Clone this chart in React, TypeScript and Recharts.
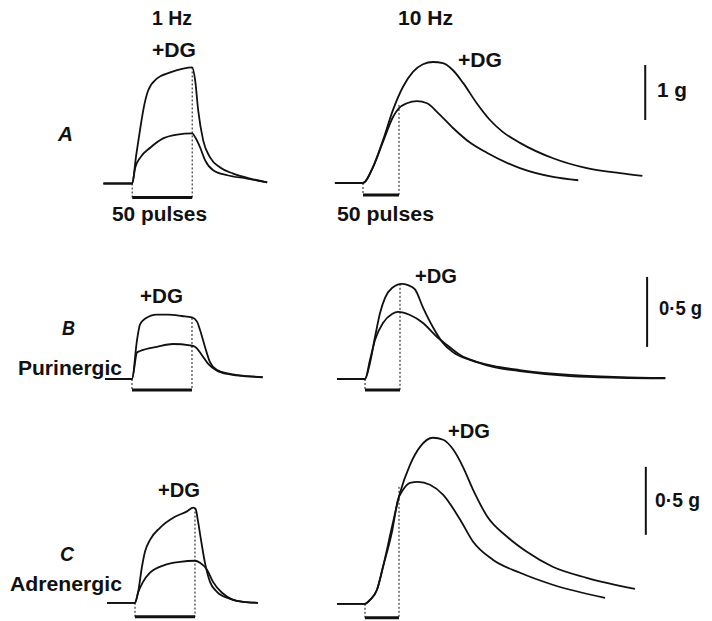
import { LineChart, Line, XAxis, YAxis, ReferenceLine } from 'recharts';

// tension traces: [time from start of train (s), tension above baseline (g)]
// A: whole nerve, 1 Hz and 10 Hz trains of 50 pulses
const A1_DG = [[-24, 0], [0, 0], [3.3, 0.51], [6.7, 1.0], [10, 1.42], [13.3, 1.69], [20.8, 1.91], [31.7, 2.02], [42.5, 2.09], [50, 2.11], [52.5, 1.87], [55, 1.33], [59.2, 0.78], [65, 0.47], [73.3, 0.29], [84.2, 0.18], [98.3, 0.09], [112.5, 0.02]];
const A1_CTRL = [[-24, 0], [0, 0], [2.5, 0.29], [6.7, 0.47], [15, 0.65], [25.8, 0.82], [37.5, 0.89], [50, 0.91], [52.5, 0.84], [56.7, 0.65], [60.8, 0.42], [67.5, 0.24], [79.2, 0.15], [95.8, 0.09], [112.5, 0.02]];
const A10_DG = [[-3.9, 0], [0, 0], [1.39, 0.29], [2.78, 0.78], [4.17, 1.33], [5.56, 1.75], [6.94, 2.02], [8.33, 2.16], [9.72, 2.2], [11.1, 2.18], [12.5, 2.05], [13.9, 1.82], [15.8, 1.45], [17.6, 1.15], [19.4, 0.93], [21.8, 0.73], [26.4, 0.45], [31.1, 0.27], [35.7, 0.18], [38.8, 0.13]];
const A10_CTRL = [[-3.9, 0], [0, 0], [1.39, 0.29], [2.78, 0.75], [4.17, 1.2], [5.0, 1.36], [6.1, 1.45], [7.5, 1.49], [8.9, 1.45], [10.3, 1.29], [12.5, 1.0], [14.9, 0.73], [17.2, 0.55], [21.8, 0.27], [26.4, 0.11], [29.9, 0.05]];

// B: purinergic component
const B1_DG = [[-22.5, 0], [0, 0], [4.2, 0.28], [6.7, 0.39], [10.8, 0.43], [20.8, 0.46], [30, 0.46], [41.7, 0.45], [50, 0.44], [54.2, 0.41], [56.7, 0.35], [60.8, 0.23], [65, 0.12], [70.8, 0.064], [81.7, 0.036], [95.8, 0.021], [109, 0.014]];
const B1_CTRL = [[-22.5, 0], [0, 0], [4.2, 0.19], [6.7, 0.2], [20.8, 0.23], [34.2, 0.25], [48.3, 0.24], [52.5, 0.23], [58.3, 0.17], [63.3, 0.11], [70.8, 0.06], [81.7, 0.033], [95.8, 0.019], [109, 0.012]];
const B10_DG = [[-4, 0], [0, 0], [0.71, 0.114], [1.43, 0.3], [2.14, 0.47], [2.86, 0.58], [3.86, 0.65], [5.29, 0.68], [6.14, 0.67], [7.14, 0.64], [8.29, 0.51], [9.71, 0.37], [11.1, 0.26], [12.6, 0.19], [15, 0.136], [18.3, 0.093], [22.1, 0.064], [29.3, 0.029], [36.4, 0.014], [42.9, 0.007]];
const B10_CTRL = [[-4, 0], [0, 0], [0.71, 0.136], [1.43, 0.279], [2.57, 0.4], [3.86, 0.464], [4.71, 0.479], [6.43, 0.457], [8.29, 0.4], [10.3, 0.3], [11.7, 0.243], [13.6, 0.171], [16, 0.121], [18.3, 0.086], [22.1, 0.057], [29.3, 0.021], [36.4, 0.009], [42.9, 0.005]];

// C: adrenergic component
const C1_DG = [[-23.3, 0], [0, 0], [2.5, 0.074], [5.8, 0.265], [8.3, 0.375], [12.5, 0.463], [20.8, 0.551], [33.3, 0.632], [43.3, 0.672], [48.5, 0.7], [50.5, 0.69], [52.5, 0.6], [54.5, 0.49], [58.3, 0.294], [62.5, 0.154], [68.3, 0.081], [79.2, 0.029], [90, 0.007], [102.5, 0]];
const C1_CTRL = [[-23.3, 0], [0, 0], [2.5, 0.074], [6.7, 0.154], [12.5, 0.221], [25, 0.279], [37.5, 0.301], [50, 0.309], [54.2, 0.294], [60, 0.243], [65, 0.154], [72.5, 0.074], [81.7, 0.022], [90, 0.007], [102.5, 0]];
const C10_DG = [[-4.1, 0], [0, 0], [0.74, 0.029], [1.76, 0.103], [2.65, 0.272], [3.97, 0.566], [5.15, 0.816], [6.62, 1.022], [8.09, 1.154], [10, 1.221], [11.5, 1.206], [13, 1.132], [14.4, 1.007], [15.9, 0.838], [18, 0.64], [20.9, 0.493], [23.8, 0.382], [27.6, 0.272], [32.6, 0.191], [39.7, 0.11]];
const C10_CTRL = [[-4.1, 0], [0, 0], [0.74, 0.029], [1.76, 0.103], [2.65, 0.272], [3.97, 0.529], [4.85, 0.765], [5.59, 0.838], [6.62, 0.89], [7.79, 0.897], [9.56, 0.875], [11.5, 0.801], [14, 0.618], [15.9, 0.456], [18.8, 0.324], [22.8, 0.228], [27.6, 0.14], [35.3, 0.044]];

const INK = '#111';
const FONT = '"Liberation Sans", Arial, Helvetica, sans-serif';

type Panel = {
  id: string;
  dg: number[][];
  ctrl: number[][];
  train: number; // duration of 50 pulses (s)
  markTop: number; // g at which the dotted end-of-train line starts
  // layout: pixel position of t=0/baseline, and px per s / px per g
  x0: number; kx: number; y0: number; ky: number;
  t: [number, number]; g: [number, number];
  barDrop: number;
  scale?: { t: number; g0: number; len: number };
};

const PANELS: Panel[] = [
  { id: 'A1', dg: A1_DG, ctrl: A1_CTRL, train: 50, markTop: 2.11, x0: 132, kx: 1.2, y0: 183, ky: 55, t: [-26, 116], g: [-0.4, 2.3], barDrop: 14 },
  { id: 'A10', dg: A10_DG, ctrl: A10_CTRL, train: 5, markTop: 1.42, x0: 363, kx: 7.2, y0: 183, ky: 55, t: [-5, 41], g: [-0.4, 2.4], barDrop: 12, scale: { t: 39.2, g0: 1.145, len: 1 } },
  { id: 'B1', dg: B1_DG, ctrl: B1_CTRL, train: 50, markTop: 0.436, x0: 132, kx: 1.2, y0: 379, ky: 140, t: [-25, 112], g: [-0.15, 0.8], barDrop: 11 },
  { id: 'B10', dg: B10_DG, ctrl: B10_CTRL, train: 5, markTop: 0.68, x0: 365, kx: 7, y0: 379, ky: 140, t: [-5, 44], g: [-0.15, 0.8], barDrop: 11, scale: { t: 40.3, g0: 0.229, len: 0.5 } },
  { id: 'C1', dg: C1_DG, ctrl: C1_CTRL, train: 50, markTop: 0.7, x0: 135, kx: 1.2, y0: 603, ky: 136, t: [-25, 105], g: [-0.15, 0.8], barDrop: 14 },
  { id: 'C10', dg: C10_DG, ctrl: C10_CTRL, train: 5, markTop: 0.86, x0: 365, kx: 6.8, y0: 604, ky: 136, t: [-5, 43], g: [-0.15, 1.3], barDrop: 14, scale: { t: 41.3, g0: 0.507, len: 0.5 } },
];

// annotation text: [text, left x, baseline y, width, italic]
const TEXTS: [string, number, number, number, boolean?][] = [
  ['1 Hz', 152, 25, 40],
  ['10 Hz', 398, 25, 55],
  ['+DG', 152, 57, 44],
  ['+DG', 458, 67, 44],
  ['1 g', 657, 97, 30],
  ['A', 58, 141, 15, true],
  ['50 pulses', 112, 221, 95],
  ['50 pulses', 337, 221, 97],
  ['+DG', 140, 303, 43],
  ['+DG', 415, 283, 42],
  ['0·5 g', 659, 315, 43],
  ['B', 62, 335, 13, true],
  ['Purinergic', 18, 375, 104],
  ['+DG', 158, 497, 42],
  ['+DG', 448, 438, 42],
  ['0·5 g', 655, 507, 45],
  ['C', 60, 561, 14, true],
  ['Adrenergic', 10, 591, 112],
];

const pts = (a: number[][]) => a.map(([t, g]) => ({ t, g }));

const Trace = ({ p }: { p: Panel }) => {
  const left = p.x0 + p.t[0] * p.kx;
  const width = (p.t[1] - p.t[0]) * p.kx;
  const top = p.y0 - p.g[1] * p.ky;
  const height = (p.g[1] - p.g[0]) * p.ky;
  const bar = -p.barDrop / p.ky;
  return (
    <div style={{ position: 'absolute', left, top }}>
      <LineChart width={width} height={height} margin={{ top: 0, right: 0, bottom: 0, left: 0 }}>
        <XAxis type="number" dataKey="t" domain={p.t} hide allowDataOverflow />
        <YAxis type="number" dataKey="g" domain={p.g} hide allowDataOverflow />
        <ReferenceLine segment={[{ x: 0, y: 0 }, { x: 0, y: bar }]} stroke={INK} strokeWidth={1} strokeDasharray="2 2" />
        <ReferenceLine segment={[{ x: p.train, y: p.markTop }, { x: p.train, y: bar }]} stroke={INK} strokeWidth={1} strokeDasharray="2 2" />
        <ReferenceLine segment={[{ x: 0, y: bar }, { x: p.train, y: bar }]} stroke={INK} strokeWidth={3} />
        {p.scale && (
          <ReferenceLine
            segment={[{ x: p.scale.t, y: p.scale.g0 }, { x: p.scale.t, y: p.scale.g0 + p.scale.len }]}
            stroke={INK}
            strokeWidth={2}
          />
        )}
        <Line data={pts(p.ctrl)} dataKey="g" type="monotone" stroke={INK} strokeWidth={1.8} dot={false} isAnimationActive={false} />
        <Line data={pts(p.dg)} dataKey="g" type="monotone" stroke={INK} strokeWidth={1.8} dot={false} isAnimationActive={false} />
      </LineChart>
    </div>
  );
};

export default function App() {
  return (
    <div style={{ position: 'absolute', left: 0, top: 0, width: 712, height: 621, background: '#fff', overflow: 'hidden' }}>
      {PANELS.map((p) => <Trace key={p.id} p={p} />)}
      <svg width={712} height={621} style={{ position: 'absolute', left: 0, top: 0, pointerEvents: 'none' }}>
        {TEXTS.map(([s, x, y, w, it], i) => (
          <text
            key={i}
            x={x}
            y={y}
            textLength={w}
            lengthAdjust="spacingAndGlyphs"
            fontFamily={FONT}
            fontSize={20}
            fontWeight="bold"
            fontStyle={it ? 'italic' : 'normal'}
            fill={INK}
          >
            {s}
          </text>
        ))}
      </svg>
    </div>
  );
}
